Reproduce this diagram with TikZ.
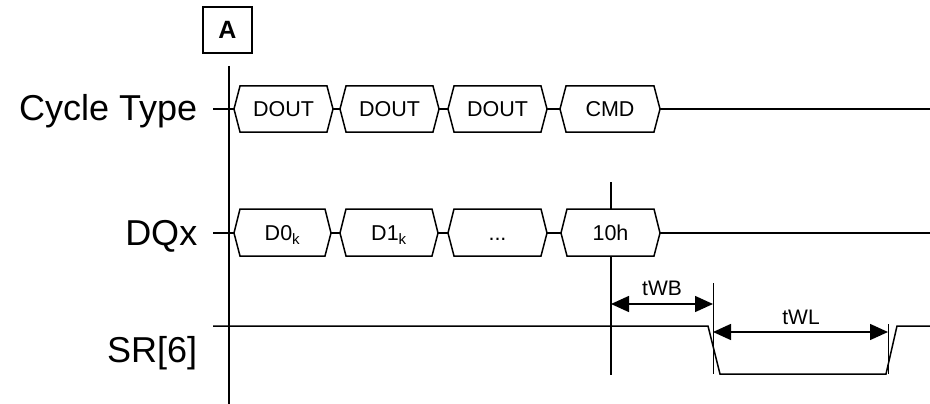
\documentclass[tikz,border=0pt]{standalone}
\usepackage{fontspec}
\setmainfont{Liberation Sans}
\usetikzlibrary{arrows.meta}
\newcommand{\busdots}{...}

\begin{document}
\begin{tikzpicture}[x=1pt,y=-1pt,line width=1.5pt,
  every node/.style={font=\fontsize{21.5}{24}\selectfont},
  cellt/.style={text height=15.5pt,text depth=0pt},
  siglbl/.style={anchor=base east,inner sep=0pt,font=\fontsize{36}{40}\selectfont},
  timelbl/.style={anchor=base,inner sep=0pt,font=\fontsize{21}{24}\selectfont},
  dimarrow/.style={{Triangle[length=18pt,width=16pt]}-{Triangle[length=18pt,width=16pt]}}]
  \useasboundingbox (0,0) rectangle (930,404);
  % signal names
  \node[siglbl] (ctlbl) at (198,121) {Cycle Type};
  \node[siglbl] (dqlbl) at (198,245) {DQx};
  \node[siglbl] (srlbl) at (198,362) {SR[6]};
  % marker A
  \node[draw,minimum width=49pt,minimum height=46pt,inner sep=0pt,font=\bfseries\fontsize{25}{28}\selectfont] (mka) at (227.5,30) {A};
  \coordinate (atop) at (229,66); \coordinate (abot) at (229,404);
  \draw (atop) -- (abot);
  % bus lines
  \draw (213,109) -- (930,109);
  \draw (213,233) -- (930,233);
  \foreach \xa/\xb/\txt/\nm in {234/333/DOUT/ct1,340/439/DOUT/ct2,448/547/DOUT/ct3,560/660/CMD/ct4}{
    \draw[fill=white] (\xa,109) -- (\xa+6,86) -- (\xb-6,86) -- (\xb,109) -- (\xb-6,132) -- (\xa+6,132) -- cycle;
    \node[cellt] (\nm) at ({(\xa+\xb)/2},109) {\txt};
  }
  % marker for tWB start
  \coordinate (mtop) at (611,182); \coordinate (mbot) at (611,375);
  \draw (mtop) -- (mbot);
  \foreach \xa/\xb/\txt/\nm in {234/331/D0\textsubscript{k}/dq1,340/438/D1\textsubscript{k}/dq2,448/547/\busdots/dq3,561/660/10h/dq4}{
    \draw[fill=white] (\xa,233) -- (\xa+6,209) -- (\xb-6,209) -- (\xb,233) -- (\xb-6,256) -- (\xa+6,256) -- cycle;
    \node[cellt] (\nm) at ({(\xa+\xb)/2},233) {\txt};
  }
  % SR[6] waveform
  \draw (213,326) -- (708,326) -- (720,374) -- (886,374) -- (897,326) -- (930,326);
  \coordinate (bustop) at (713,283); \coordinate (busbot) at (713,374);
  \coordinate (rdytop) at (888,324); \coordinate (rdybot) at (888,374);
  \draw[line width=1pt] (bustop) -- (busbot);
  \draw[line width=1pt] (rdytop) -- (rdybot);
  % timings
  \coordinate (wba) at (611,304); \coordinate (wbb) at (713,304);
  \coordinate (wla) at (713,332); \coordinate (wlb) at (888,332);
  \draw[dimarrow] (wba) -- (wbb);
  \draw[dimarrow] (wla) -- (wlb);
  \node[timelbl] (twb) at (662,295) {tWB};
  \node[timelbl] (twl) at (801,324) {tWL};
\end{tikzpicture}
\end{document}
